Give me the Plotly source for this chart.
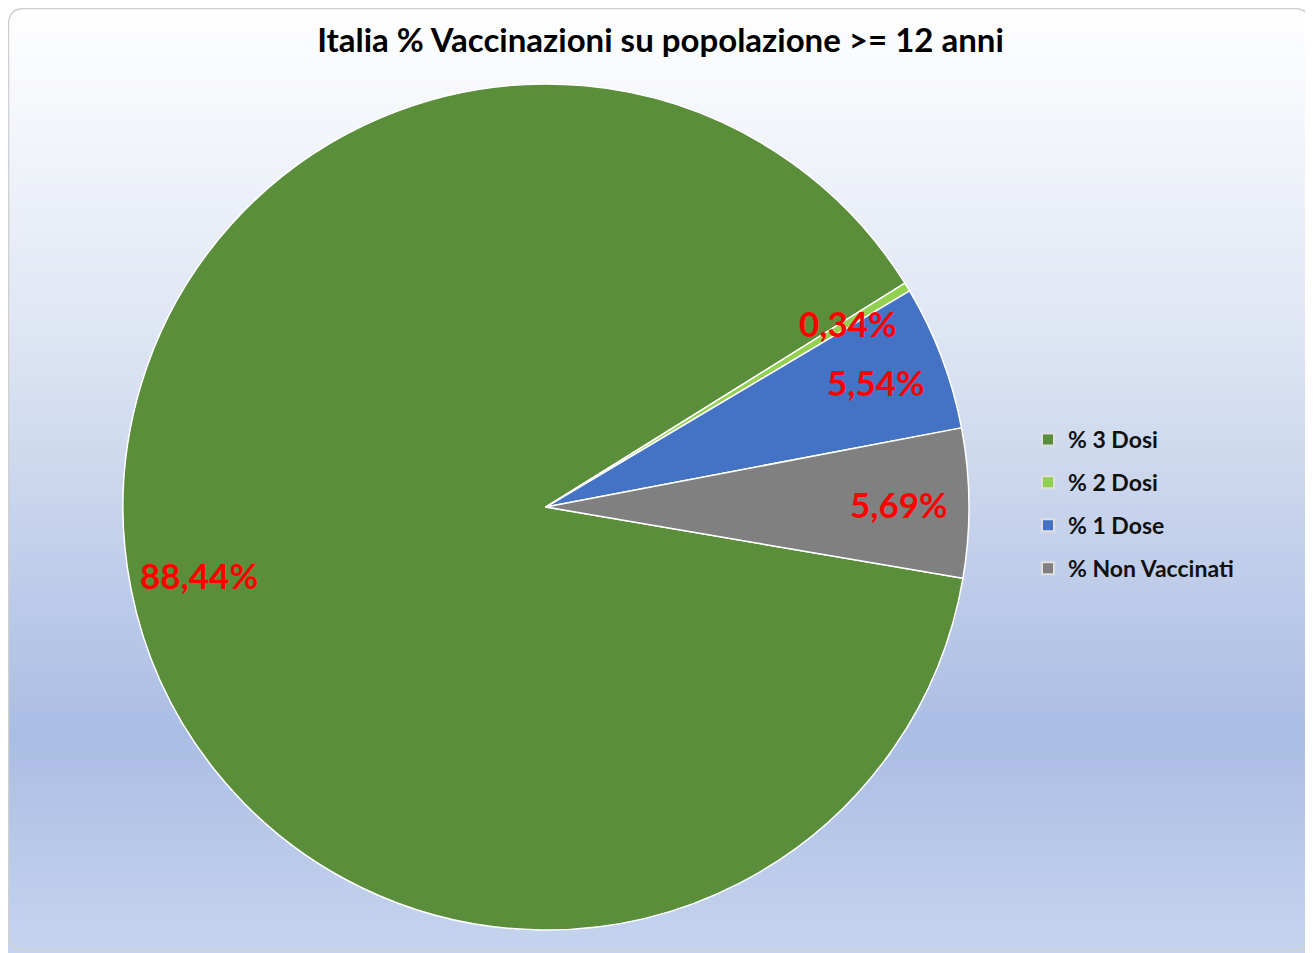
import math
import plotly.graph_objects as go

# data
categories = ["% 3 Dosi", "% 2 Dosi", "% 1 Dose", "% Non Vaccinati"]
values = [88.44, 0.34, 5.54, 5.69]
colors = ["#5b8e3a", "#92d050", "#4472c4", "#808080"]
title = "Italia % Vaccinazioni su popolazione >= 12 anni"

# geometry: page has an 8px body margin, so the figure is shifted
OFF = 8
W, H = 1313 - OFF, 953 - OFF
CX, CY, R = 546, 507, 423
ROTATION = 99.7
LABEL_R = 0.835


def px(x):
    return (x - OFF) / W


def py(y):
    return 1 - (y - OFF) / H


fig = go.Figure()

# gradient background made of thin bands
stops = [(0.0, (255, 255, 255)), (0.35, (222, 229, 243)), (0.77, (170, 189, 227)), (1.0, (198, 212, 238))]
n_bands = 120
for i in range(n_bands):
    t = (i + 0.5) / n_bands
    for (t0, c0), (t1, c1) in zip(stops[:-1], stops[1:]):
        if t0 <= t <= t1:
            f = (t - t0) / (t1 - t0)
            c = tuple(round(a + (b - a) * f) for a, b in zip(c0, c1))
            break
    fig.add_shape(type="rect", xref="paper", yref="paper",
                  x0=0, x1=1, y0=1 - (i + 1) / n_bands - 0.001, y1=1 - i / n_bands + 0.001,
                  fillcolor="rgb(%d,%d,%d)" % c, line=dict(width=0), layer="below")

# rounded border
rr = 16
x0, y0, x1, y1 = OFF + 0.5, OFF + 0.5, 1310, 950
path = (f"M {px(x0 + rr)},{py(y0)} L {px(x1 - rr)},{py(y0)} Q {px(x1)},{py(y0)} {px(x1)},{py(y0 + rr)} "
        f"L {px(x1)},{py(y1 - rr)} Q {px(x1)},{py(y1)} {px(x1 - rr)},{py(y1)} "
        f"L {px(x0 + rr)},{py(y1)} Q {px(x0)},{py(y1)} {px(x0)},{py(y1 - rr)} "
        f"L {px(x0)},{py(y0 + rr)} Q {px(x0)},{py(y0)} {px(x0 + rr)},{py(y0)} Z")
fig.add_shape(type="path", xref="paper", yref="paper", path=path,
              line=dict(color="#d0d0d0", width=1.5), layer="above")

# pie
fig.add_trace(
    go.Pie(
        labels=categories,
        values=values,
        sort=False,
        direction="clockwise",
        rotation=ROTATION,
        marker=dict(colors=colors, line=dict(color="white", width=1.5)),
        textinfo="none",
        hoverinfo="label+value",
        showlegend=False,
        domain=dict(x=[px(CX - R), px(CX + R)], y=[py(CY + R), py(CY - R)]),
    )
)

# data labels at slice mid-angles
total = sum(values)
cum = 0
for cat, val in zip(categories, values):
    mid = math.radians(ROTATION + (cum + val / 2) / total * 360)
    cum += val
    lx = CX + LABEL_R * R * math.sin(mid)
    ly = CY - LABEL_R * R * math.cos(mid)
    fig.add_annotation(x=px(lx), y=py(ly), xref="paper", yref="paper",
                       xanchor="center", yanchor="middle",
                       text=f"{val:.2f}%".replace(".", ","), showarrow=False,
                       font=dict(family="Lato", size=35, color="#ff0000", weight="bold"))

# legend entries
for i, (cat, col) in enumerate(zip(categories, colors)):
    fig.add_trace(go.Scatter(x=[None], y=[None], mode="markers", name=cat, legendgroup=str(i),
                             marker=dict(symbol="square", size=15, color=col,
                                         line=dict(color="#e0e0e0", width=1))))

fig.update_layout(
    width=W, height=H,
    title=dict(text=title, x=0.5, xanchor="center", y=py(40), yanchor="middle",
               font=dict(family="Lato", size=33, color="black", weight="bold")),
    margin=dict(l=0, r=0, t=0, b=0),
    paper_bgcolor="white",
    plot_bgcolor="rgba(0,0,0,0)",
    xaxis=dict(visible=False),
    yaxis=dict(visible=False),
    legend=dict(x=px(1028), xanchor="left", y=py(504), yanchor="middle",
                font=dict(family="Lato", size=23, color="#111111", weight="bold"),
                bgcolor="rgba(0,0,0,0)", tracegroupgap=10, itemsizing="constant"),
    font=dict(family="Lato"),
)

fig.write_html("out.html")
